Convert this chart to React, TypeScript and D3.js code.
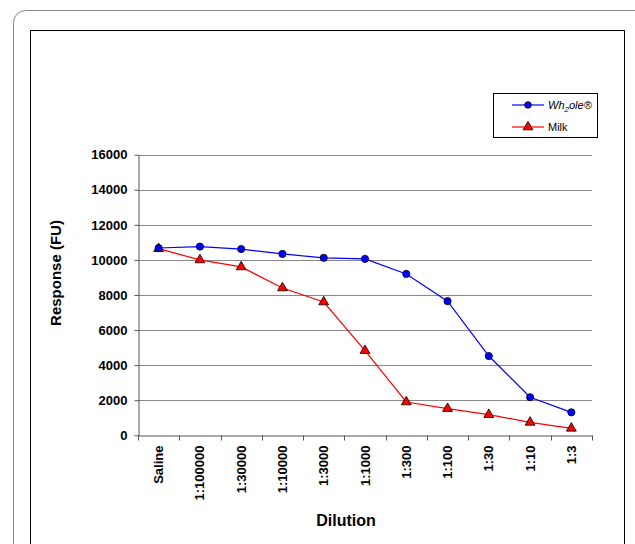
import React, { useEffect, useRef } from 'react'
import * as d3 from 'd3'

const dilutions = ['Saline', '1:100000', '1:30000', '1:10000', '1:3000', '1:1000', '1:300', '1:100', '1:30', '1:10', '1:3']
const wholeValues = [10680, 10760, 10620, 10340, 10120, 10060, 9200, 7650, 4520, 2170, 1310]
const milkValues = [10640, 10000, 9600, 8400, 7600, 4830, 1900, 1520, 1180, 740, 400]
const yTicks = [0, 2000, 4000, 6000, 8000, 10000, 12000, 14000, 16000]

const W = 635
const H = 544
const font = '"Liberation Sans", Arial, sans-serif'

const App = () => {
  const ref = useRef(null)

  useEffect(() => {
    const svg = d3.select(ref.current)
    svg.selectAll('*').remove()

    // frames
    svg.append('rect').attr('x', 13.5).attr('y', 10.5).attr('width', 640).attr('height', 560)
      .attr('rx', 12).attr('fill', 'white').attr('stroke', '#888')
    svg.append('rect').attr('x', 30.5).attr('y', 30.5).attr('width', 594).attr('height', 540)
      .attr('fill', 'white').attr('stroke', '#000')

    const x = d3.scaleBand().domain(dilutions).range([138, 592])
    const y = d3.scaleLinear().domain([0, 16000]).range([435.3, 154.7])

    const g = svg.append('g')

    // gridlines
    g.selectAll('.grid').data(yTicks.filter((d) => d > 0)).enter().append('line')
      .attr('x1', 138).attr('x2', 592)
      .attr('y1', (d) => Math.round(y(d)) + 0.5).attr('y2', (d) => Math.round(y(d)) + 0.5)
      .attr('stroke', '#888').attr('stroke-width', 1)

    // y axis
    const yAxis = g.append('g').attr('transform', 'translate(138.5,0)')
      .call(d3.axisLeft(y).tickValues(yTicks).tickSize(4).tickSizeOuter(0).tickFormat(d3.format('d')))
    yAxis.select('.domain').attr('stroke', '#555')
    yAxis.selectAll('.tick line').attr('stroke', '#555')
    yAxis.selectAll('text').attr('font-family', font).attr('font-size', 13)
      .attr('font-weight', 'bold').attr('fill', '#000').attr('x', -11)

    // x axis
    const xAxis = g.append('g').attr('transform', `translate(0,${Math.round(y(0)) + 0.5})`)
      .call(d3.axisBottom(x).tickSize(0).tickSizeOuter(0))
    xAxis.select('.domain').attr('stroke', '#555')
    xAxis.selectAll('.tick text')
      .attr('font-family', font).attr('font-size', 13).attr('font-weight', 'bold').attr('fill', '#000')
      .attr('transform', 'rotate(-90)').attr('text-anchor', 'end').attr('x', -10).attr('y', 0).attr('dy', '0.35em')
    const bounds = [...dilutions.map((d) => x(d) as number), 592]
    xAxis.selectAll('.sep').data(bounds).enter().append('line')
      .attr('x1', (d) => Math.round(d) + 0.5).attr('x2', (d) => Math.round(d) + 0.5)
      .attr('y1', 0).attr('y2', 5).attr('stroke', '#555')

    const cx = (d: string) => (x(d) as number) + x.bandwidth() / 2
    const line = d3.line<number>().x((_, i) => cx(dilutions[i])).y((v) => y(v))

    g.append('path').datum(milkValues).attr('d', line).attr('fill', 'none').attr('stroke', '#ff0000').attr('stroke-width', 1.2)
    g.append('path').datum(wholeValues).attr('d', line).attr('fill', 'none').attr('stroke', '#0000ff').attr('stroke-width', 1.2)

    const tri = d3.symbol().type(d3.symbolTriangle).size(42)
    g.selectAll('.tri').data(milkValues).enter().append('path')
      .attr('d', tri).attr('transform', (v, i) => `translate(${cx(dilutions[i])},${y(v)})`)
      .attr('fill', '#ff0000').attr('stroke', '#000').attr('stroke-width', 0.8)
    g.selectAll('.dot').data(wholeValues).enter().append('circle')
      .attr('cx', (_, i) => cx(dilutions[i])).attr('cy', (v) => y(v)).attr('r', 3.6)
      .attr('fill', '#0000ff').attr('stroke', '#000').attr('stroke-width', 0.8)

    // axis titles
    svg.append('text').attr('transform', 'translate(61,273) rotate(-90)').attr('text-anchor', 'middle')
      .attr('font-family', font).attr('font-size', 15).attr('font-weight', 'bold').text('Response (FU)')
    svg.append('text').attr('x', 346).attr('y', 526).attr('text-anchor', 'middle')
      .attr('font-family', font).attr('font-size', 16).attr('font-weight', 'bold').text('Dilution')

    // legend
    const lg = svg.append('g')
    lg.append('rect').attr('x', 493.5).attr('y', 93.5).attr('width', 104).attr('height', 44)
      .attr('fill', 'white').attr('stroke', '#000')
    lg.append('line').attr('x1', 512).attr('x2', 544).attr('y1', 105).attr('y2', 105).attr('stroke', '#0000ff').attr('stroke-width', 1.2)
    lg.append('circle').attr('cx', 528).attr('cy', 105).attr('r', 3.3).attr('fill', '#0000ff').attr('stroke', '#000').attr('stroke-width', 0.8)
    const t1 = lg.append('text').attr('x', 548).attr('y', 109).attr('font-family', font).attr('font-size', 11).attr('font-style', 'italic')
    t1.append('tspan').text('Wh')
    t1.append('tspan').attr('font-size', 8).attr('dy', 3).text('2')
    t1.append('tspan').attr('dy', -3).text('ole®')
    lg.append('line').attr('x1', 512).attr('x2', 544).attr('y1', 127).attr('y2', 127).attr('stroke', '#ff0000').attr('stroke-width', 1.2)
    lg.append('path').attr('d', tri).attr('transform', 'translate(528,127)')
      .attr('fill', '#ff0000').attr('stroke', '#000').attr('stroke-width', 0.8)
    lg.append('text').attr('x', 548).attr('y', 131).attr('font-family', font).attr('font-size', 11).text('Milk')
  }, [])

  return (
    <svg ref={ref} width={W} height={H} style={{ position: 'absolute', left: 0, top: 0, background: 'white' }} />
  )
}

export default App
